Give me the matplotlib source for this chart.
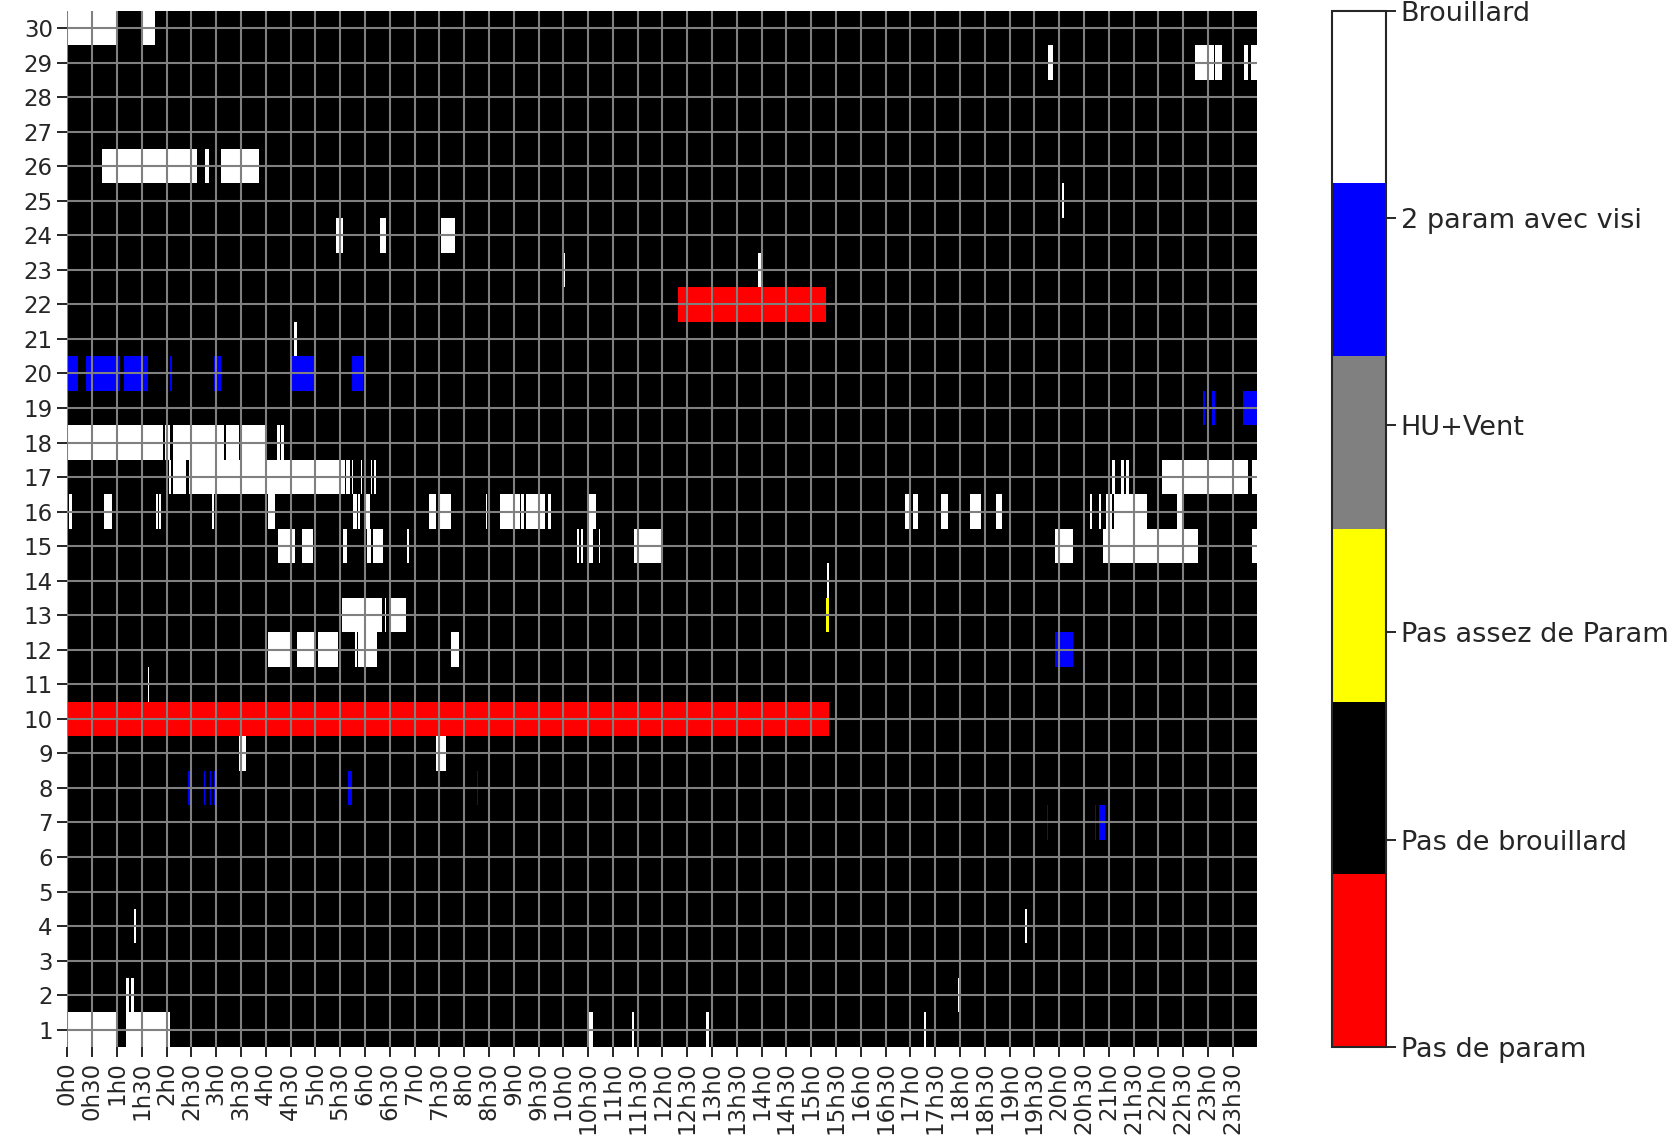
import numpy as np
import matplotlib.pyplot as plt
from matplotlib.colors import ListedColormap

days = list(range(1, 31))
n_minutes = 1440
time_ticks = list(range(0, 1440, 30))
time_labels = [f"{h}h{m}" for h in range(24) for m in (0, 30)]

category_names = ["Pas de param", "Pas de brouillard", "Pas assez de Param",
                  "HU+Vent", "2 param avec visi", "Brouillard"]
category_colors = ["#ff0000", "#000000", "#ffff00", "#808080", "#0000ff", "#ffffff"]

# segments: (day, start minute, end minute)
no_param = [(10, 0, 922), (22, 739, 918)]

few_param = [(13, 918, 921)]

visi_2param = [
    (20, 0, 13), (20, 23, 64), (20, 68, 97), (20, 124, 127), (20, 177, 186),
    (20, 272, 300), (20, 344, 358),
    (19, 1374, 1377), (19, 1385, 1388), (19, 1422, 1440),
    (12, 1195, 1217),
    (8, 146, 148), (8, 165, 167), (8, 172, 174), (8, 177, 179), (8, 339, 344),
    (8, 495, 497),
    (7, 1185, 1187), (7, 1243, 1245), (7, 1248, 1255),
]

fog = [
    (30, 0, 60), (30, 92, 106),
    (29, 1187, 1192), (29, 1364, 1387), (29, 1389, 1397), (29, 1424, 1428),
    (29, 1432, 1440),
    (26, 42, 157), (26, 167, 171), (26, 186, 232),
    (25, 1203, 1206),
    (24, 325, 334), (24, 378, 386), (24, 452, 469),
    (23, 599, 602), (23, 836, 839),
    (21, 274, 278),
    (18, 0, 116), (18, 118, 120), (18, 122, 124), (18, 128, 190), (18, 192, 207),
    (18, 209, 241), (18, 253, 257), (18, 259, 262),
    (17, 123, 125), (17, 128, 144), (17, 147, 336), (17, 337, 339), (17, 340, 342),
    (17, 344, 346), (17, 355, 357), (17, 367, 369), (17, 371, 373),
    (17, 1264, 1268), (17, 1275, 1278), (17, 1281, 1285), (17, 1324, 1429),
    (17, 1433, 1440),
    (16, 2, 6), (16, 44, 54), (16, 107, 109), (16, 111, 113), (16, 175, 177),
    (16, 243, 251), (16, 346, 350), (16, 351, 354), (16, 360, 366),
    (16, 437, 446), (16, 448, 464), (16, 506, 508), (16, 524, 547), (16, 549, 552),
    (16, 555, 578), (16, 582, 585), (16, 631, 639),
    (16, 1014, 1021), (16, 1023, 1029), (16, 1057, 1066), (16, 1092, 1105),
    (16, 1124, 1131), (16, 1237, 1240), (16, 1248, 1251), (16, 1257, 1264),
    (16, 1266, 1306), (16, 1343, 1350),
    (15, 255, 275), (15, 284, 297), (15, 334, 338), (15, 362, 367), (15, 370, 382),
    (15, 411, 413), (15, 617, 619), (15, 621, 624), (15, 631, 636), (15, 643, 645),
    (15, 685, 720), (15, 1195, 1217), (15, 1253, 1368), (15, 1433, 1440),
    (14, 919, 922),
    (13, 332, 381), (13, 384, 386), (13, 390, 410),
    (12, 243, 269), (12, 278, 300), (12, 303, 327), (12, 348, 350), (12, 352, 374),
    (12, 464, 474),
    (11, 97, 99),
    (9, 207, 216), (9, 446, 458),
    (5, 178, 181),
    (4, 81, 83), (4, 1159, 1161),
    (2, 71, 75), (2, 77, 81), (2, 1078, 1081),
    (1, 0, 60), (1, 71, 124), (1, 631, 636), (1, 683, 686), (1, 773, 776),
    (1, 1036, 1039),
]

grid = np.ones((len(days), n_minutes))
for value, segments in [(0, no_param), (2, few_param), (4, visi_2param), (5, fog)]:
    for d, s, e in segments:
        grid[d - 1, s:e] = value

cmap = ListedColormap(category_colors)

fig = plt.figure(figsize=(16.78, 11.42), dpi=100)
ax = fig.add_axes([0.0402, 0.0832, 0.7092, 0.9074])
cax = fig.add_axes([0.7938, 0.0832, 0.0322, 0.9074])

x_edges = np.arange(n_minutes + 1)
y_edges = np.arange(0.5, len(days) + 1)
mesh = ax.pcolormesh(x_edges, y_edges, grid, cmap=cmap, vmin=0, vmax=5)

ax.set_xlim(0, n_minutes)
ax.set_ylim(0.5, len(days) + 0.5)
ax.set_xticks(time_ticks)
ax.set_xticklabels(time_labels, rotation=90)
ax.set_yticks(days)
ax.set_yticklabels([str(d) for d in days])
ax.tick_params(labelsize=16.5, length=7, width=1.4, colors="#262626")
ax.grid(True, color="#808080", linewidth=1.5)
ax.set_axisbelow(False)
for sp in ax.spines.values():
    sp.set_visible(False)

cb = fig.colorbar(mesh, cax=cax, ticks=range(6))
cb.ax.set_yticklabels(category_names)
cb.ax.tick_params(labelsize=19.5, length=7, width=1.4, colors="#262626")
cb.outline.set_linewidth(1.5)
cb.outline.set_edgecolor("#262626")

fig.savefig("out.png", dpi=100)
